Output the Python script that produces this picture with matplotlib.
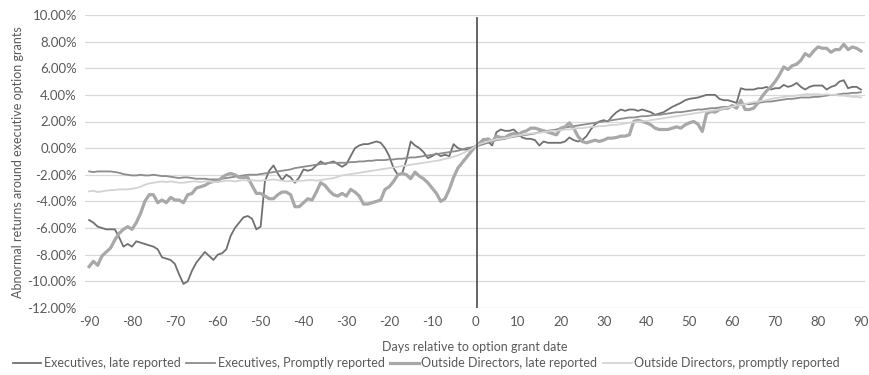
import matplotlib
matplotlib.use("Agg")
import matplotlib.pyplot as plt
from matplotlib.ticker import FuncFormatter, MultipleLocator

plt.rcParams['font.family'] = ['Liberation Sans Narrow', 'Lato', 'DejaVu Sans']

days = list(range(-90, 91))

# cumulative abnormal returns, in percent, one value per day
exec_late = [
    -5.4, -5.6, -5.9, -6.0, -6.1, -6.1, -6.1, -6.7, -7.4, -7.2,      # -90..-81
    -7.4, -7.0, -7.1, -7.2, -7.3, -7.4, -7.6, -8.2, -8.3, -8.4,      # -80..-71
    -8.7, -9.5, -10.2, -10.0, -9.2, -8.6, -8.2, -7.8, -8.1, -8.4,    # -70..-61
    -8.0, -7.9, -7.6, -6.6, -6.0, -5.6, -5.2, -5.1, -5.3, -6.1,      # -60..-51
    -5.9, -2.5, -1.7, -1.3, -1.9, -2.4, -2.0, -2.2, -2.6, -2.2,      # -50..-41
    -1.6, -1.7, -1.6, -1.3, -1.0, -1.2, -1.1, -1.0, -1.2, -1.4,      # -40..-31
    -1.2, -0.6, 0.0, 0.2, 0.3, 0.3, 0.4, 0.5, 0.4, 0.0,              # -30..-21
    -0.6, -1.5, -2.0, -1.9, -0.9, 0.5, 0.2, 0.0, -0.3, -0.75,        # -20..-11
    -0.6, -0.4, -0.6, -0.5, -0.6, 0.3, 0.0, -0.1, -0.1, 0.0,         # -10..-1
    0.1,                                                             # 0
    0.4, 0.7, 0.5, 0.2, 1.2, 1.4, 1.3, 1.3, 1.4, 1.1,                # 1..10
    0.8, 0.7, 0.7, 0.6, 0.2, 0.5, 0.4, 0.4, 0.4, 0.4,                # 11..20
    0.5, 0.8, 0.6, 0.5, 0.6, 0.9, 1.4, 1.8, 2.0, 2.1,                # 21..30
    2.0, 2.4, 2.7, 2.9, 2.8, 2.9, 2.9, 2.8, 2.9, 2.8,                # 31..40
    2.7, 2.5, 2.6, 2.7, 2.9, 3.1, 3.25, 3.4, 3.6, 3.7,               # 41..50
    3.75, 3.8, 3.9, 4.0, 4.0, 4.0, 3.7, 3.6, 3.6, 3.5,               # 51..60
    3.4, 4.5, 4.4, 4.4, 4.4, 4.5, 4.5, 4.6, 4.4, 4.5,                # 61..70
    4.5, 4.75, 4.6, 4.7, 4.9, 4.6, 4.4, 4.6, 4.7, 4.7,               # 71..80
    4.7, 4.4, 4.6, 4.7, 5.0, 5.1, 4.5, 4.6, 4.6, 4.4,                # 81..90
]

exec_prompt = [
    -1.75, -1.8, -1.75, -1.75, -1.75, -1.75, -1.8, -1.85, -1.95, -2.0,
    -2.05, -2.05, -2.0, -2.05, -2.05, -2.0, -2.05, -2.1, -2.1, -2.15,
    -2.2, -2.25, -2.2, -2.2, -2.25, -2.3, -2.3, -2.3, -2.35, -2.35,
    -2.35, -2.3, -2.25, -2.2, -2.15, -2.1, -2.05, -2.0, -2.0, -2.0,
    -1.95, -1.9, -1.85, -1.8, -1.75, -1.7, -1.65, -1.6, -1.5, -1.45,
    -1.4, -1.35, -1.3, -1.25, -1.2, -1.15, -1.1, -1.1, -1.1, -1.1,
    -1.1, -1.05, -1.05, -1.0, -1.0, -0.95, -0.95, -0.9, -0.9, -0.9,
    -0.85, -0.85, -0.8, -0.8, -0.75, -0.7, -0.7, -0.65, -0.6, -0.55,
    -0.5, -0.45, -0.4, -0.35, -0.3, -0.25, -0.2, -0.1, 0.0, 0.05,
    0.1,
    0.2, 0.3, 0.4, 0.5, 0.6, 0.65, 0.7, 0.8, 0.85, 0.9,
    0.95, 1.0, 1.05, 1.1, 1.2, 1.25, 1.3, 1.35, 1.4, 1.5,
    1.55, 1.6, 1.65, 1.7, 1.75, 1.8, 1.85, 1.9, 1.95, 2.0,
    2.05, 2.1, 2.15, 2.2, 2.25, 2.3, 2.3, 2.35, 2.4, 2.4,
    2.45, 2.5, 2.5, 2.55, 2.6, 2.65, 2.7, 2.7, 2.75, 2.8,
    2.85, 2.9, 2.9, 2.95, 3.0, 3.0, 3.05, 3.1, 3.1, 3.15,
    3.2, 3.25, 3.3, 3.3, 3.35, 3.4, 3.45, 3.5, 3.5, 3.55,
    3.6, 3.65, 3.7, 3.7, 3.75, 3.8, 3.8, 3.8, 3.85, 3.85,
    3.9, 3.95, 4.0, 4.0, 4.05, 4.1, 4.1, 4.15, 4.15, 4.2,
]

dir_late = [
    -8.9, -8.5, -8.8, -8.1, -7.8, -7.5, -6.9, -6.4, -6.1, -5.9,
    -6.1, -5.6, -4.9, -4.0, -3.5, -3.5, -4.1, -3.9, -4.1, -3.7,
    -3.9, -3.9, -4.1, -3.5, -3.4, -3.0, -2.9, -2.8, -2.6, -2.5,
    -2.5, -2.2, -2.0, -1.9, -2.0, -2.2, -2.2, -2.2, -2.8, -3.4,
    -3.4, -3.6, -3.8, -3.8, -3.5, -3.3, -3.3, -3.5, -4.4, -4.4,
    -4.1, -3.8, -3.9, -3.3, -2.6, -2.8, -3.2, -3.5, -3.6, -3.4,
    -3.6, -3.1, -3.3, -3.6, -4.2, -4.2, -4.1, -4.0, -3.9, -3.1,
    -2.9, -2.5, -2.0, -1.9, -2.0, -2.3, -1.8, -2.1, -2.3, -2.6,
    -3.0, -3.4, -4.0, -3.8, -3.1, -2.2, -1.5, -1.1, -0.7, -0.3,
    0.1,
    0.3, 0.6, 0.7, 0.5, 0.9, 0.8, 0.8, 1.0, 1.1, 1.0,
    1.2, 1.3, 1.5, 1.5, 1.4, 1.3, 1.2, 1.1, 1.0, 1.5,
    1.6, 1.9, 1.5, 0.9, 0.5, 0.4, 0.5, 0.6, 0.5, 0.6,
    0.75, 0.75, 0.8, 0.9, 0.9, 1.0, 2.0, 2.1, 2.0, 1.9,
    1.75, 1.5, 1.4, 1.4, 1.4, 1.5, 1.6, 1.5, 1.75, 1.9,
    2.0, 1.8, 1.25, 2.6, 2.75, 2.7, 2.9, 3.0, 3.0, 3.2,
    3.0, 3.6, 2.9, 2.9, 3.0, 3.4, 3.9, 4.3, 4.6, 5.0,
    5.5, 6.1, 5.9, 6.2, 6.3, 6.6, 7.1, 6.9, 7.3, 7.6,
    7.5, 7.5, 7.2, 7.4, 7.4, 7.8, 7.4, 7.6, 7.5, 7.3,
]

dir_prompt = [
    -3.25, -3.2, -3.3, -3.25, -3.2, -3.15, -3.15, -3.1, -3.1, -3.1,
    -3.05, -3.0, -2.9, -2.75, -2.65, -2.6, -2.55, -2.5, -2.55, -2.5,
    -2.55, -2.6, -2.6, -2.55, -2.5, -2.5, -2.55, -2.5, -2.5, -2.55,
    -2.55, -2.5, -2.45, -2.45, -2.5, -2.45, -2.4, -2.45, -2.4, -2.45,
    -2.45, -2.4, -2.4, -2.35, -2.4, -2.45, -2.5, -2.45, -2.5, -2.45,
    -2.45, -2.4, -2.4, -2.45, -2.4, -2.35, -2.3, -2.25, -2.15, -2.05,
    -2.0, -1.95, -1.9, -1.85, -1.8, -1.75, -1.7, -1.65, -1.6, -1.55,
    -1.5, -1.45, -1.4, -1.35, -1.3, -1.25, -1.2, -1.15, -1.1, -1.05,
    -1.0, -0.95, -0.9, -0.8, -0.75, -0.65, -0.55, -0.4, -0.25, -0.1,
    0.1,
    0.3, 0.4, 0.5, 0.6, 0.65, 0.7, 0.75, 0.8, 0.9, 0.95,
    1.0, 1.05, 1.1, 1.1, 1.15, 1.2, 1.25, 1.3, 1.3, 1.35,
    1.4, 1.4, 1.45, 1.5, 1.5, 1.55, 1.6, 1.6, 1.65, 1.65,
    1.7, 1.75, 1.75, 1.8, 1.85, 1.9, 1.95, 2.0, 2.0, 2.05,
    2.1, 2.15, 2.2, 2.25, 2.3, 2.35, 2.4, 2.45, 2.5, 2.55,
    2.6, 2.65, 2.7, 2.75, 2.8, 2.85, 2.9, 3.0, 3.05, 3.1,
    3.2, 3.25, 3.3, 3.4, 3.45, 3.5, 3.55, 3.6, 3.7, 3.75,
    3.8, 3.85, 3.9, 3.9, 3.95, 4.0, 4.05, 4.05, 4.05, 4.05,
    4.0, 4.05, 4.0, 4.0, 3.95, 3.95, 3.9, 3.85, 3.85, 3.8,
]

labels = ["Executives, late reported", "Executives, Promptly reported",
          "Outside Directors, late reported", "Outside Directors, promptly reported"]

fig = plt.figure(figsize=(8.7, 3.75), dpi=100)
ax = fig.add_axes([0.098, 0.179, 0.896, 0.781])

ax.plot(days, exec_late, color="#707070", lw=1.3, label=labels[0])
ax.plot(days, exec_prompt, color="#8c8c8c", lw=1.3, label=labels[1])
ax.plot(days, dir_late, color="#a8a8a8", lw=2.3, label=labels[2])
ax.plot(days, dir_prompt, color="#d3d3d3", lw=1.3, label=labels[3])

ax.axvline(0.4, ymin=0, ymax=0.99, color="#595959", lw=1.3)

ax.set_xlim(-90.9, 90.9)
ax.set_ylim(-12, 10)
ax.xaxis.set_major_locator(MultipleLocator(10))
ax.yaxis.set_major_locator(MultipleLocator(2))
ax.yaxis.set_major_formatter(FuncFormatter(lambda v, p: f"{v:.2f}%"))
ax.xaxis.set_major_formatter(FuncFormatter(lambda v, p: f"{int(round(v))}"))
ax.grid(axis="y", color="#d9d9d9", lw=0.9)
ax.set_axisbelow(True)
for s in ax.spines.values():
    s.set_visible(False)
ax.tick_params(length=0, labelsize=9.5, labelcolor="#595959", pad=6)

fig.text(0.546, 0.065, "Days relative to option grant date", ha="center",
         fontsize=9, color="#595959")
fig.text(0.021, 0.569, "Abnormal returns around executive option grants",
         rotation=90, ha="center", va="center", fontsize=9, color="#595959")

fig.legend(loc="lower center", ncol=4, bbox_to_anchor=(0.49, -0.015), frameon=False,
           fontsize=9, handlelength=2.3, handletextpad=0.2, columnspacing=0.45,
           labelcolor="#595959")

fig.savefig("out.png", dpi=100)
